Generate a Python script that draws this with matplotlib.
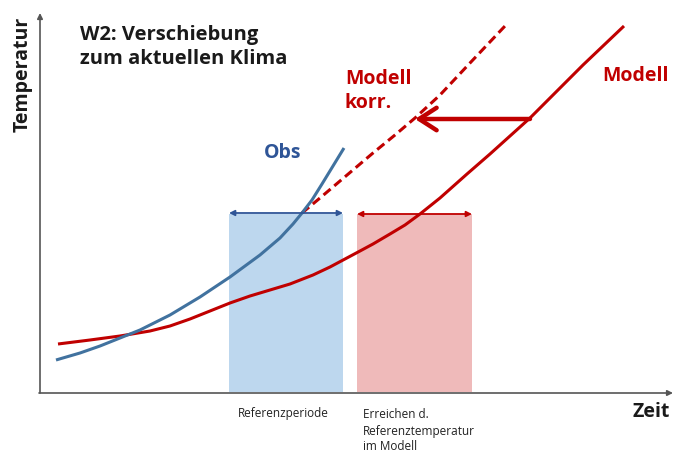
import numpy as np
import matplotlib.pyplot as plt
from matplotlib.patches import Rectangle

plt.rcParams['font.family'] = ['Open Sans', 'DejaVu Sans']

# curves (x to the right, y downwards as in the image)
obs_x = [56, 80, 100, 120, 140, 170, 200, 230, 260, 280, 293, 302, 312, 322, 333, 344]
obs_y = [360, 353, 346, 338, 330, 315, 297, 277, 255, 238, 224, 213, 200, 184, 166, 148]

mod_x = [58, 90, 120, 150, 170, 190, 210, 230, 250, 270, 290, 313, 330, 345, 360,
         373, 390, 405, 420, 440, 467, 490, 510, 530, 553, 583, 624]
mod_y = [344, 340, 336, 331, 326, 319, 311, 303, 296, 290, 284, 275, 267, 259, 251,
         244, 234, 225, 214, 198, 174, 154, 136, 118, 95, 65, 26]

korr_x = [302, 320, 340, 373, 395, 415, 440, 470, 505]
korr_y = [213, 198, 181, 153, 135, 118, 95, 63, 26]

# reference period and period in which the model reaches it
ref_span = (229, 343)
reach_span = (357, 472)
box_top, box_bottom = 214, 392

# shift arrow
shift_from, shift_to, shift_y = 530, 415, 119

blue = '#41729f'
dblue = '#2f5597'
red = '#c00000'

fig = plt.figure(figsize=(6.75, 4.54), dpi=100)
ax = fig.add_axes([0, 0, 1, 1])
ax.set_xlim(0, 675)
ax.set_ylim(454, 0)
ax.axis('off')

ax.add_patch(Rectangle((ref_span[0], box_top), ref_span[1] - ref_span[0],
                       box_bottom - box_top, color='#bdd7ee', lw=0))
ax.add_patch(Rectangle((reach_span[0], box_top), reach_span[1] - reach_span[0],
                       box_bottom - box_top, color='#efbaba', lw=0))

# axes with arrows
ax.annotate('', xy=(40, 13), xytext=(40, 393),
            arrowprops=dict(arrowstyle='-|>', color='#555555', lw=1.2,
                            mutation_scale=8, shrinkA=0, shrinkB=0))
ax.annotate('', xy=(673, 393), xytext=(39, 393),
            arrowprops=dict(arrowstyle='-|>', color='#555555', lw=1.2,
                            mutation_scale=8, shrinkA=0, shrinkB=0))

ax.plot(mod_x, mod_y, color=red, lw=2.2, solid_capstyle='butt',
        solid_joinstyle='round')
ax.plot(korr_x, korr_y, color=red, lw=2.2, ls=(0, (3, 1.6)))
ax.plot(obs_x, obs_y, color=blue, lw=2.2, solid_capstyle='butt',
        solid_joinstyle='round')

ax.annotate('', xy=(ref_span[0], box_top - 1), xytext=(ref_span[1], box_top - 1),
            arrowprops=dict(arrowstyle='<|-|>', color=dblue, lw=1.3,
                            mutation_scale=8, shrinkA=0, shrinkB=0))
ax.annotate('', xy=(reach_span[0], box_top), xytext=(reach_span[1], box_top),
            arrowprops=dict(arrowstyle='<|-|>', color=red, lw=1.3,
                            mutation_scale=8, shrinkA=0, shrinkB=0))

ax.annotate('', xy=(shift_to, shift_y), xytext=(shift_from, shift_y),
            arrowprops=dict(arrowstyle='->,head_length=0.7,head_width=0.45',
                            color=red, lw=3.2, mutation_scale=18,
                            shrinkA=0, shrinkB=0))

ax.text(80, 47, 'W2: Verschiebung\nzum aktuellen Klima', fontsize=14.5,
        fontweight='bold', color='#1a1a1a', ha='left', va='center',
        linespacing=1.3)
ax.text(23, 74, 'Temperatur', fontsize=14, fontweight='bold', rotation=90,
        ha='center', va='center', color='#1a1a1a')
ax.text(651, 412, 'Zeit', fontsize=14, fontweight='bold', ha='center',
        va='center', color='#1a1a1a')
ax.text(283, 153, 'Obs', fontsize=14, fontweight='bold', color=dblue,
        ha='center', va='center')
ax.text(345, 91, 'Modell\nkorr.', fontsize=14, fontweight='bold', color=red,
        ha='left', va='center', linespacing=1.2)
ax.text(602, 76, 'Modell', fontsize=14, fontweight='bold', color=red,
        ha='left', va='center')
ax.text(283, 414, 'Referenzperiode', fontsize=8.5, ha='center', va='center',
        color='#222222')
ax.text(363, 431, 'Erreichen d.\nReferenztemperatur\nim Modell', fontsize=8.5,
        ha='left', va='center', color='#222222', linespacing=1.3)

fig.savefig('out.png', dpi=100)
